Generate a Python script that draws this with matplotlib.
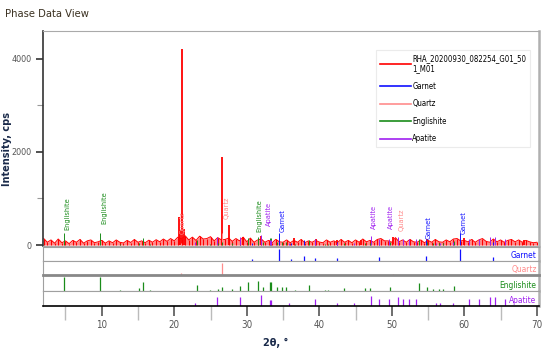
import matplotlib
matplotlib.use("Agg")
import matplotlib.pyplot as plt
from matplotlib.ticker import MultipleLocator
import numpy as np

# background counts, one value every 0.5 deg from 2 to 70
bg_counts = [
    140, 60, 110, 40, 130, 50, 90, 30, 100, 60, 120, 40, 90, 110, 50, 70, 100,
    40, 90, 50, 110, 60, 45, 100, 55, 120, 60, 90, 50, 105, 60, 115, 70, 130, 80, 140, 90,
    170, 130, 200, 110, 170, 100, 190, 130, 140, 180, 90, 160, 110, 120, 150, 80, 140, 90, 170, 70,
    150, 60, 110, 130, 60, 100, 50, 120, 70, 60, 110, 50, 100, 60, 120, 50, 90, 60, 100, 65,
    50, 110, 60, 90, 50, 120, 60, 100, 50, 110, 60, 130, 70, 100, 60, 120, 140, 90, 90, 60,
    160, 70, 110, 60, 120, 70, 60, 110, 50, 100, 60, 120, 70, 60, 110, 70, 130, 140, 90, 100,
    70, 120, 60, 110, 140, 80, 60, 130, 70, 110, 60, 100, 120, 70, 110, 60, 100, 70, 50, 60,
]
bg_start, bg_step = 2.0, 0.5

# sharp sample peaks
peak_pos = [20.7, 20.85, 21.0, 21.3, 26.65, 27.5, 29.5, 32.0, 36.5, 39.5, 42.4, 45.8, 50.1, 54.9, 59.9, 68.2]
peak_h = [600, 330, 4200, 350, 1880, 420, 180, 200, 150, 120, 100, 110, 180, 130, 150, 100]

# reference phases: positions and relative intensities
garnet_pos = [30.7, 34.4, 36.1, 37.9, 39.4, 42.5, 48.2, 54.7, 59.4, 64.0]
garnet_rel = [20, 100, 20, 40, 25, 25, 35, 40, 100, 30]

quartz_pos = [20.9, 26.65, 50.1]
quartz_rel = [20, 100, 10]

englishite_pos = [4.8, 9.8, 12.5, 15.1, 15.7, 16.6, 23.1, 24.9, 26.1, 26.6, 28.0, 29.0, 30.2,
                  31.6, 32.3, 33.2, 33.4, 34.2, 34.8, 35.4, 36.6, 38.6, 40.8, 41.2, 43.4,
                  46.3, 47.0, 49.7, 53.8, 54.8, 55.7, 56.5, 57.1, 58.6]
englishite_rel = [100, 100, 10, 20, 60, 10, 45, 10, 15, 25, 15, 35, 60,
                  70, 25, 60, 60, 30, 25, 25, 10, 45, 10, 10, 20,
                  20, 20, 30, 55, 25, 15, 15, 15, 35]

apatite_pos = [22.9, 25.9, 29.1, 32.0, 33.2, 33.3, 35.8, 39.4, 42.5, 44.8, 47.1, 48.3, 49.6,
               50.9, 51.6, 52.4, 53.4, 56.1, 56.7, 58.5, 60.6, 62.0, 63.5, 64.3, 65.6]
apatite_rel = [25, 70, 70, 85, 45, 45, 20, 55, 20, 20, 75, 55, 55,
               65, 55, 55, 55, 20, 20, 25, 55, 55, 65, 65, 55]

# peak labels in the main view: name, 2theta, bottom of text in cps
label_names = ["Englishite", "Englishite", "Quartz", "Quartz", "Englishite", "Apatite",
               "Garnet", "Apatite", "Apatite", "Quartz", "Garnet", "Garnet"]
label_pos = [5.2, 10.3, 21.2, 27.2, 31.7, 33.0, 34.9, 47.6, 49.9, 51.3, 55.1, 59.9]
label_y = [320, 450, 235, 555, 280, 400, 280, 340, 340, 300, 130, 235]

sample_name = "RHA_20200930_082254_G01_50\n1_M01"
phases = ["Garnet", "Quartz", "Englishite", "Apatite"]
colors = {"Garnet": "#1010ff", "Quartz": "#ff8c8c", "Englishite": "#1a8c1a", "Apatite": "#a020f0"}
phase_data = {"Garnet": (garnet_pos, garnet_rel), "Quartz": (quartz_pos, quartz_rel),
              "Englishite": (englishite_pos, englishite_rel), "Apatite": (apatite_pos, apatite_rel)}

cond = dict(family="DejaVu Sans", stretch="condensed")

fig = plt.figure(figsize=(5.5, 3.53), dpi=100)
W, H = 550.0, 353.0

def px_axes(x0, y0, x1, y1):
    return fig.add_axes([x0 / W, 1 - y1 / H, (x1 - x0) / W, (y1 - y0) / H])

xmin, xmax = 1.9, 70.3

# main plot
ax = px_axes(43, 31, 539, 246)
bg_x = bg_start + bg_step * np.arange(len(bg_counts))
ax.fill_between(bg_x, 0, bg_counts, color="red", alpha=0.45, lw=0)
ax.vlines(bg_x, 0, bg_counts, color="red", lw=0.8)
ax.plot(bg_x, bg_counts, color="red", lw=0.7)
ax.vlines(peak_pos, 0, peak_h, color="red", lw=1.3)
for ph in phases:
    pos, rel = phase_data[ph]
    ax.vlines(pos, 0, np.array(rel) * 2.5, color=colors[ph], lw=0.7)
for name, x, y in zip(label_names, label_pos, label_y):
    ax.text(x, y, name, rotation=90, ha="center", va="bottom", fontsize=5.3,
            color=colors[name], **cond)

ax.set_xlim(xmin, xmax)
ax.set_ylim(-20, 4590)
ax.set_yticks([0, 2000, 4000])
ax.yaxis.set_minor_locator(MultipleLocator(1000))
ax.tick_params(axis="y", which="major", length=5, width=1.2, color="#333333",
               labelsize=6.5, labelcolor="#555555")
ax.tick_params(axis="y", which="minor", length=4, width=0.8, color="#999999")
for lab in ax.get_yticklabels():
    lab.set_fontstretch("condensed")
ax.set_xticks([])
for s in ["top", "bottom"]:
    ax.spines[s].set_color("#aaaaaa")
ax.spines["left"].set_color("#333333")
ax.spines["left"].set_linewidth(1.2)
ax.spines["right"].set_color("#b0b0b0")
ax.spines["right"].set_linewidth(1.8)
ax.set_ylabel("Intensity, cps", fontsize=7, fontweight="bold", color="#1a2a4a")
ax.yaxis.set_label_coords(-0.062, 0.45)

handles = [plt.Line2D([], [], color="red", lw=1.2)]
labels = [sample_name]
for ph in phases:
    handles.append(plt.Line2D([], [], color=colors[ph], lw=1.2))
    labels.append(ph)
leg = ax.legend(handles, labels, loc="upper right", bbox_to_anchor=(0.99, 0.93),
                frameon=True, fancybox=False, handlelength=4.0,
                labelspacing=1.1, borderpad=0.5, handletextpad=0.2,
                prop={"family": "DejaVu Sans", "stretch": "condensed", "size": 5.6})
leg.get_frame().set_edgecolor("#e6e6e6")
leg.get_frame().set_linewidth(0.8)

# phase stick panels
panel_px = [(247, 261), (261, 275), (275, 291), (291, 306)]
for i, ph in enumerate(phases):
    y0, y1 = panel_px[i]
    pa = px_axes(43, y0, 539, y1)
    pos, rel = phase_data[ph]
    pa.vlines(pos, 0, rel, color=colors[ph], lw=0.9)
    pa.set_xlim(xmin, xmax)
    pa.set_ylim(0, 112)
    pa.set_yticks([])
    pa.text(0.995, 0.05, ph, transform=pa.transAxes, ha="right", va="bottom",
            fontsize=6, color=colors[ph], **cond)
    for s in ["top", "bottom", "left"]:
        pa.spines[s].set_color("#a0a0a0")
    pa.spines["right"].set_color("#b0b0b0")
    pa.spines["right"].set_linewidth(1.8)
    if ph == "Englishite":
        pa.spines["top"].set_linewidth(2.0)
        pa.spines["top"].set_color("#888888")
    if ph == "Apatite":
        pa.spines["bottom"].set_color("black")
        pa.spines["bottom"].set_linewidth(1.2)
        pa.set_xticks([10, 20, 30, 40, 50, 60, 70])
        pa.xaxis.set_minor_locator(MultipleLocator(5))
        pa.tick_params(axis="x", which="major", length=7, width=1.2, color="#555555",
                       labelsize=7, labelcolor="#555555", pad=3)
        pa.tick_params(axis="x", which="minor", length=10, width=1.0, color="#bbbbbb")
        for lab in pa.get_xticklabels():
            lab.set_fontstretch("condensed")
        pa.set_xlabel("2θ, °", fontsize=7, fontweight="bold", color="#1a2a4a")
        pa.xaxis.set_label_coords(0.47, -2.15)
    else:
        pa.set_xticks([])

fig.text(5 / W, 1 - 14 / H, "Phase Data View", fontsize=8, color="#3a3020",
         va="center", **cond)

fig.savefig("out.png", dpi=100)
